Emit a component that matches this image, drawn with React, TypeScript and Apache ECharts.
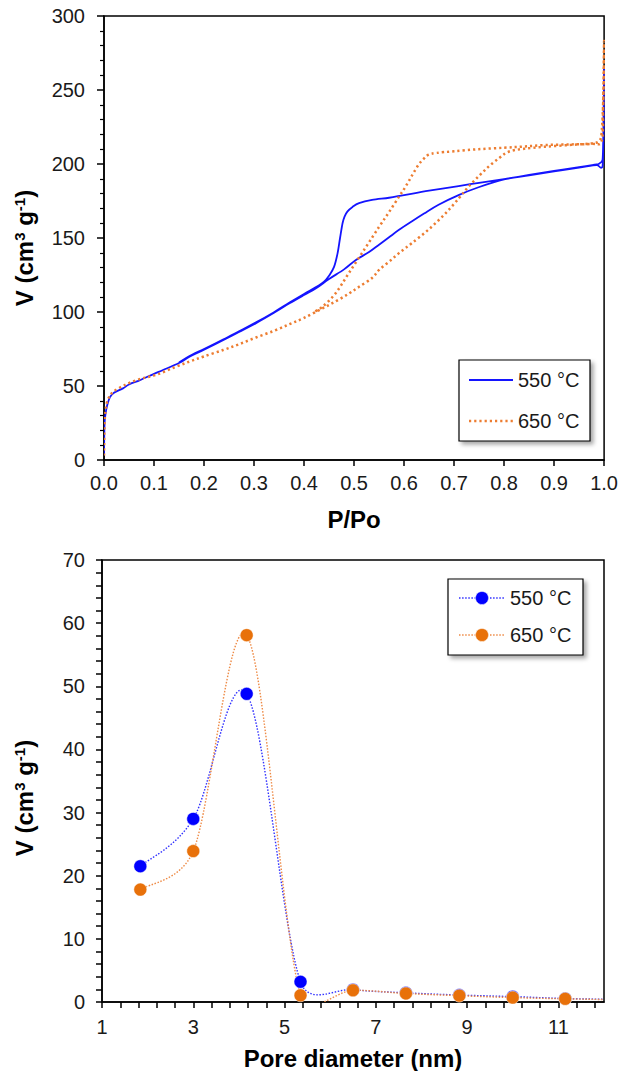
import React, { useEffect, useRef } from "react";
import * as echarts from "echarts";

// ---------- Top chart: N2 isotherms (P/Po vs V) ----------
const p550Ads = [0, 0.001, 0.003, 0.006, 0.012, 0.02, 0.038, 0.05, 0.072, 0.1, 0.118, 0.15, 0.171, 0.2, 0.238, 0.27, 0.304, 0.34, 0.371, 0.4, 0.424, 0.45, 0.48, 0.503, 0.53, 0.55, 0.57, 0.59, 0.616, 0.64, 0.669, 0.709, 0.749, 0.8, 0.85, 0.9, 0.95, 0.985, 0.993, 0.997, 0.999, 1.0];
const v550Ads = [3, 24, 31, 36.5, 42.5, 45.5, 48.4, 51, 54, 58.2, 60.8, 65.5, 69.8, 74.5, 81, 86.5, 92.5, 99.5, 105.9, 111.5, 116, 122.3, 128.8, 135, 140.5, 145.5, 150.5, 155.5, 161.3, 166.5, 172.5, 179, 184.3, 189.6, 192.3, 195, 197.5, 199.3, 197.5, 198.5, 225, 265];
const p550Des = [0.999, 0.997, 0.99, 0.98, 0.95, 0.9, 0.85, 0.8, 0.75, 0.709, 0.65, 0.6, 0.57, 0.536, 0.51, 0.497, 0.487, 0.481, 0.477, 0.472, 0.467, 0.46, 0.45, 0.44, 0.424, 0.4, 0.371, 0.34, 0.304, 0.27, 0.238, 0.2, 0.171, 0.15];
const v550Des = [235, 203, 200.2, 199.5, 197.8, 195.3, 192.6, 189.8, 187.3, 185.1, 182, 179, 177.2, 175.7, 173.5, 171, 168, 164.5, 160, 150, 139.6, 130.5, 124.5, 120.5, 116.8, 112.2, 106.4, 99.9, 93.0, 87.0, 81.4, 75.0, 70.2, 65.8];

const p650Ads = [0, 0.001, 0.003, 0.006, 0.012, 0.02, 0.035, 0.05, 0.075, 0.105, 0.14, 0.171, 0.2, 0.238, 0.27, 0.304, 0.34, 0.371, 0.4, 0.437, 0.465, 0.49, 0.51, 0.536, 0.55, 0.57, 0.59, 0.616, 0.65, 0.683, 0.71, 0.729, 0.75, 0.769, 0.79, 0.809, 0.84, 0.882, 0.93, 0.975, 0.99, 0.995, 0.999, 1.0];
const v650Ads = [3, 24, 33, 39, 43.5, 46.5, 49.5, 52, 55, 57.6, 62.5, 66.5, 70, 74.3, 78.2, 82.8, 87.3, 91.8, 96, 102.5, 107.5, 112.5, 117, 123, 128.4, 134, 139.8, 146.6, 156, 166.7, 177, 184.7, 192, 198.2, 204, 208.3, 210.3, 211.7, 212.8, 213.9, 215.5, 220.7, 250, 283];
const p650Des = [0.998, 0.995, 0.975, 0.93, 0.882, 0.84, 0.8, 0.749, 0.7, 0.665, 0.649, 0.64, 0.629, 0.616, 0.603, 0.59, 0.57, 0.55, 0.523, 0.49, 0.463, 0.437, 0.42];
const v650Des = [240, 215.2, 213.6, 213.2, 212.8, 211.8, 211, 210, 208.6, 207.5, 206.3, 203.8, 199.5, 192.3, 184.7, 178, 167.5, 157.5, 143.5, 126.5, 112.6, 103.6, 100];

// ---------- Bottom chart: pore size distribution ----------
const poreDiameter = [1.84, 3.0, 4.17, 5.35, 6.5, 7.66, 8.83, 10.0, 11.15, 12.31];
const psd550 = [21.5, 29.0, 48.8, 3.2, 1.95, 1.45, 1.1, 0.85, 0.55, 0.4];
const psd650 = [17.8, 23.9, 58.1, 1.06, 1.85, 1.35, 1.0, 0.7, 0.5, 0.35];

const seriesNames = ["550 °C", "650 °C"];
const topXTicks = [0, 1, 0.1];
const topYTicks = [0, 300, 50];
const botXTicks = [1, 12, 0.4];
const botYTicks = [0, 70, 2];

const FONT = "'Liberation Sans', Arial, sans-serif";
const BLUE = "#1414FF";
const ORANGE = "#ED7D31";

const zip = (xs: number[], ys: number[]) => xs.map((x, i) => [x, ys[i]]);

function excelSpline(pts: number[][]): string {
  if (pts.length < 2) return "";
  const dist = (a: number[], b: number[]) => Math.hypot(a[0] - b[0], a[1] - b[1]);
  let d = `M${pts[0][0].toFixed(2)} ${pts[0][1].toFixed(2)}`;
  for (let i = 0; i < pts.length - 1; i++) {
    const p0 = pts[i - 1] || pts[i];
    const p1 = pts[i];
    const p2 = pts[i + 1];
    const p3 = pts[i + 2] || pts[i + 1];
    const d02 = dist(p0, p2);
    const d12 = dist(p1, p2);
    const d13 = dist(p1, p3);
    let f1 = 1 / 6;
    let f2 = 1 / 6;
    if (d02 > 0 && d02 / 6 > d12 / 2) f1 = d12 / (2 * d02);
    if (d13 > 0 && d13 / 6 > d12 / 2) f2 = d12 / (2 * d13);
    const c1x = p1[0] + (p2[0] - p0[0]) * f1;
    const c1y = p1[1] + (p2[1] - p0[1]) * f1;
    const c2x = p2[0] - (p3[0] - p1[0]) * f2;
    const c2y = p2[1] - (p3[1] - p1[1]) * f2;
    d += ` C${c1x.toFixed(2)} ${c1y.toFixed(2)} ${c2x.toFixed(2)} ${c2y.toFixed(2)} ${p2[0].toFixed(2)} ${p2[1].toFixed(2)}`;
  }
  return d;
}

function curveSeries(name: string, pts: number[][], gridIdx: number, stroke: string, lineWidth: number, lineDash: number[] | null) {
  return {
    type: "custom",
    name,
    xAxisIndex: gridIdx,
    yAxisIndex: gridIdx,
    clip: true,
    silent: true,
    data: pts,
    encode: { x: 0, y: 1 },
    renderItem: (params: any, api: any) => {
      if (params.dataIndex !== 0) return null;
      const px = pts.map((p) => api.coord(p));
      return {
        type: "path",
        shape: { pathData: excelSpline(px) },
        style: { fill: "none", stroke, lineWidth, lineDash: lineDash || undefined },
      };
    },
  };
}

const axisLineStyle = { show: true, lineStyle: { color: "#000", width: 1.5 } };
const labelStyle = { fontSize: 20, color: "#1a1a1a", fontFamily: FONT };
const titleStyle = { fontSize: 24, fontWeight: "bold" as const, color: "#000", fontFamily: FONT };
const yTitleStyle = (shift: number) => ({
  ...titleStyle,
  padding: [0, shift, 0, 0],
  rich: {
    b: { fontSize: 24, fontWeight: "bold", fontFamily: FONT, color: "#000" },
    sup: { fontSize: 15, fontWeight: "bold", fontFamily: FONT, color: "#000", verticalAlign: "top" },
  },
});
const isMultiple = (v: number, base: number, step: number) => {
  const k = (v - base) / step;
  return Math.abs(k - Math.round(k)) < 1e-6;
};

function legendGraphic(x: number, y: number, w: number, h: number, rows: { y: number; stroke: string; dash: number[] | null; width: number; marker?: string }[], lineX0: number, lineX1: number, textX: number) {
  const children: any[] = [
    {
      type: "rect",
      shape: { x, y, width: w, height: h },
      style: { fill: "#fff", stroke: "#000", lineWidth: 1.2, shadowBlur: 4, shadowOffsetX: 3, shadowOffsetY: 3, shadowColor: "rgba(0,0,0,0.35)" },
    },
  ];
  rows.forEach((r, i) => {
    children.push({
      type: "line",
      shape: { x1: lineX0, y1: r.y, x2: lineX1, y2: r.y },
      style: { stroke: r.stroke, lineWidth: r.width, lineDash: r.dash || undefined },
    });
    if (r.marker) {
      children.push({
        type: "circle",
        shape: { cx: (lineX0 + lineX1) / 2, cy: r.y, r: 6.5 },
        style: { fill: r.marker, stroke: "rgba(255,255,255,0.5)", lineWidth: 1 },
      });
    }
    children.push({
      type: "text",
      x: textX,
      y: r.y,
      style: { text: seriesNames[i], fontSize: 20, fontFamily: FONT, fill: "#1a1a1a", align: "left", verticalAlign: "middle" },
    });
  });
  return { type: "group", children };
}

export default function App() {
  const ref = useRef<HTMLDivElement>(null);
  useEffect(() => {
    if (!ref.current) return;
    const chart = echarts.init(ref.current, undefined, { renderer: "svg" });
    const top550 = zip(p550Ads, v550Ads).concat(zip(p550Des, v550Des));
    const top650 = zip(p650Ads, v650Ads).concat(zip(p650Des, v650Des));
    const bot550 = zip(poreDiameter, psd550);
    const bot650 = zip(poreDiameter, psd650);

    const option: any = {
      animation: false,
      backgroundColor: "#fff",
      grid: [
        { left: 104, top: 16, width: 502, height: 444, show: true, borderColor: "#000", borderWidth: 1.5, backgroundColor: "transparent" },
        { left: 102, top: 560, width: 502, height: 443, show: true, borderColor: "#000", borderWidth: 1.5, backgroundColor: "transparent" },
      ],
      xAxis: [
        {
          type: "value",
          gridIndex: 0,
          min: topXTicks[0],
          max: topXTicks[1],
          interval: topXTicks[2],
          axisLine: axisLineStyle,
          axisTick: { show: true, inside: false, length: 6, lineStyle: { color: "#000", width: 1.5 } },
          axisLabel: { ...labelStyle, margin: 13, formatter: (v: number) => v.toFixed(1) },
          splitLine: { show: false },
          name: "P/Po",
          nameLocation: "middle",
          nameGap: 47,
          nameTextStyle: titleStyle,
        },
        {
          type: "value",
          gridIndex: 1,
          min: botXTicks[0],
          max: botXTicks[1],
          interval: botXTicks[2],
          axisLine: axisLineStyle,
          axisTick: { show: true, inside: false, length: 6, lineStyle: { color: "#000", width: 1.5 } },
          axisLabel: {
            ...labelStyle,
            margin: 15,
            interval: 0,
            showMaxLabel: false,
            formatter: (v: number) => (v < 11.5 && isMultiple(v, 1, 2) ? String(Math.round(v)) : ""),
          },
          splitLine: { show: false },
          name: "Pore diameter (nm)",
          nameLocation: "middle",
          nameGap: 44,
          nameTextStyle: titleStyle,
        },
      ],
      yAxis: [
        {
          type: "value",
          gridIndex: 0,
          min: topYTicks[0],
          max: topYTicks[1],
          interval: topYTicks[2],
          axisLine: axisLineStyle,
          axisTick: { show: true, inside: false, length: 7, lineStyle: { color: "#000", width: 1.5 } },
          minorTick: { show: true, splitNumber: 5, length: 4, lineStyle: { color: "#000", width: 1.2 } },
          axisLabel: { ...labelStyle, margin: 19 },
          splitLine: { show: false },
          minorSplitLine: { show: false },
          name: "{b|V (cm}{sup|3}{b| g}{sup|-1}{b|)}",
          nameLocation: "middle",
          nameRotate: 90,
          nameGap: 68,
          nameTextStyle: yTitleStyle(20),
        },
        {
          type: "value",
          gridIndex: 1,
          min: botYTicks[0],
          max: botYTicks[1],
          interval: botYTicks[2],
          axisLine: axisLineStyle,
          axisTick: { show: true, inside: false, length: 6, lineStyle: { color: "#000", width: 1.5 } },
          axisLabel: {
            ...labelStyle,
            margin: 17,
            interval: 0,
            formatter: (v: number) => (isMultiple(v, 0, 10) ? String(Math.round(v)) : ""),
          },
          splitLine: { show: false },
          name: "{b|V (cm}{sup|3}{b| g}{sup|-1}{b|)}",
          nameLocation: "middle",
          nameRotate: 90,
          nameGap: 66,
          nameTextStyle: yTitleStyle(34),
        },
      ],
      series: [
        curveSeries(seriesNames[0], top550, 0, BLUE, 1.8, null),
        curveSeries(seriesNames[1], top650, 0, ORANGE, 2.5, [2.2, 3]),
        curveSeries(seriesNames[0], bot550, 1, "#3030FF", 1.4, [1.5, 1.6]),
        curveSeries(seriesNames[1], bot650, 1, "#EE8A45", 1.4, [1.5, 1.6]),
        {
          type: "scatter",
          name: seriesNames[0],
          xAxisIndex: 1,
          yAxisIndex: 1,
          data: bot550,
          symbol: "circle",
          symbolSize: 13,
          itemStyle: { color: "#0000FF", borderColor: "rgba(255,255,255,0.5)", borderWidth: 1, opacity: 1 },
          z: 5,
        },
        {
          type: "scatter",
          name: seriesNames[1],
          xAxisIndex: 1,
          yAxisIndex: 1,
          data: bot650,
          symbol: "circle",
          symbolSize: 13,
          itemStyle: { color: "#E8710A", borderColor: "rgba(255,255,255,0.5)", borderWidth: 1, opacity: 1 },
          z: 6,
        },
      ],
      graphic: [
        legendGraphic(
          459, 360, 131, 81,
          [
            { y: 380, stroke: BLUE, dash: null, width: 1.8 },
            { y: 421, stroke: ORANGE, dash: [2.2, 3], width: 2.5 },
          ],
          469, 513, 518
        ),
        legendGraphic(
          448, 579, 135, 76,
          [
            { y: 598, stroke: "#3030FF", dash: [1.5, 1.6], width: 1.4, marker: "#0000FF" },
            { y: 635, stroke: "#EE8A45", dash: [1.5, 1.6], width: 1.4, marker: "#E8710A" },
          ],
          459, 505, 510
        ),
      ],
    };
    chart.setOption(option);
    return () => chart.dispose();
  }, []);
  return <div ref={ref} style={{ position: "fixed", left: 0, top: 0, width: 621, height: 1071 }} />;
}
